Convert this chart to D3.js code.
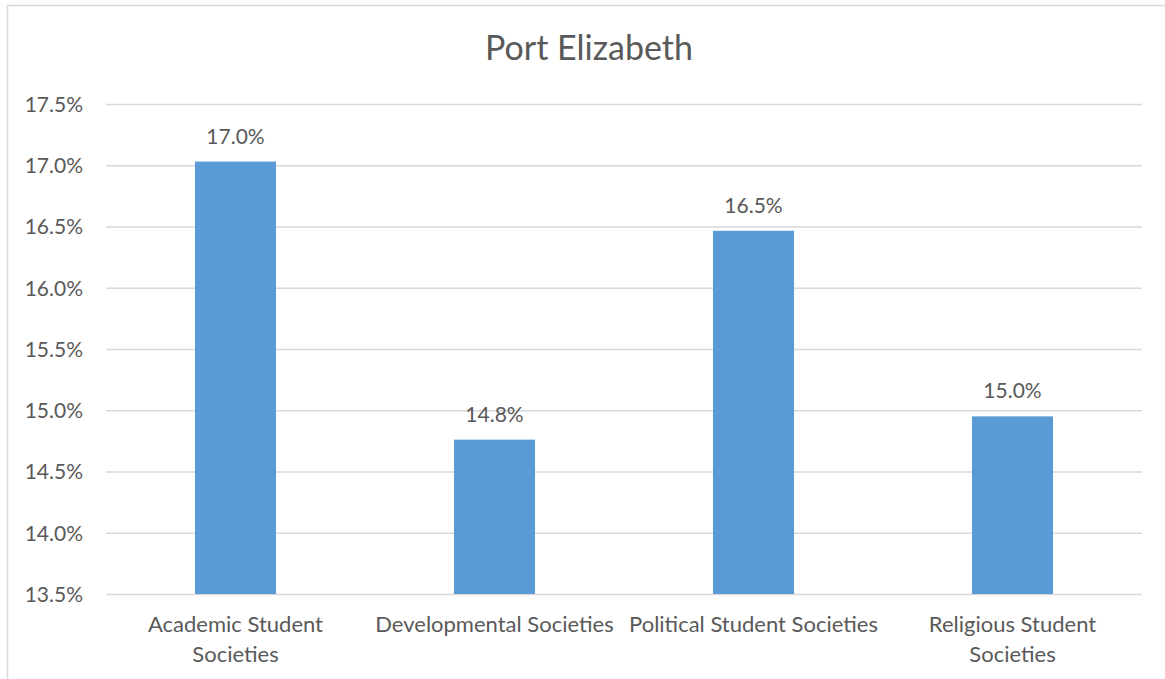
<!DOCTYPE html>
<html><head><meta charset="utf-8">
<script src="https://cdn.jsdelivr.net/npm/d3@7"></script>
<style>
html,body{margin:0;padding:0;background:#fff;}
svg text{font-family:Lato,"Open Sans",sans-serif;fill:#595959;}
</style></head>
<body><svg id="c" width="1165" height="679"></svg>
<script>
const title = "Port Elizabeth";
const categories = ["Academic Student Societies","Developmental Societies","Political Student Societies","Religious Student Societies"];
const categoryLines = [["Academic Student","Societies"],["Developmental Societies"],["Political Student Societies"],["Religious Student","Societies"]];
const values = [17.03, 14.76, 16.465, 14.95];
const valueLabels = ["17.0%","14.8%","16.5%","15.0%"];
const yTicks = [13.5,14.0,14.5,15.0,15.5,16.0,16.5,17.0,17.5];

(function(){
const svg = d3.select("#c");
svg.append("rect").attr("x",7.5).attr("y",5.5).attr("width",1170).attr("height",700)
  .attr("fill","#fff").attr("stroke","#d9d9d9").attr("stroke-width",1.5);

const pl=106, pr=1142, pt=104, pb=594;
const x = d3.scaleBand().domain(categories).range([pl,pr]).paddingInner(0.687).paddingOuter(0.3435);
const y = d3.scaleLinear().domain([13.5,17.5]).range([pb,pt]);

svg.append("text").attr("x",589).attr("y",60).attr("text-anchor","middle")
  .style("font-size","34px").text(title);

const yAxis = d3.axisLeft(y).tickValues(yTicks).tickFormat(d=>d.toFixed(1)+"%").tickSize(-(pr-pl)).tickPadding(23);
const ga = svg.append("g").attr("transform",`translate(${pl},0)`).call(yAxis);
ga.select(".domain").remove();
ga.selectAll(".tick line").attr("stroke","#d9d9d9").attr("stroke-width",1.5);
ga.selectAll(".tick text").style("font-size","21px").attr("fill","#595959").attr("dy","0.35em");

svg.selectAll("rect.bar").data(categories).enter().append("rect").attr("class","bar")
  .attr("x",d=>x(d)).attr("width",x.bandwidth())
  .attr("y",(d,i)=>y(values[i])).attr("height",(d,i)=>pb-y(values[i]))
  .attr("fill","#5b9bd5");

svg.selectAll("text.vl").data(categories).enter().append("text").attr("class","vl")
  .attr("x",d=>x(d)+x.bandwidth()/2).attr("y",(d,i)=>y(values[i])-18)
  .attr("text-anchor","middle").style("font-size","21px").text((d,i)=>valueLabels[i]);

const cl = svg.selectAll("text.cl").data(categories).enter().append("text").attr("class","cl")
  .attr("text-anchor","middle").style("font-size","22px");
cl.each(function(d,i){
  const t=d3.select(this);
  categoryLines[i].forEach((ln,j)=>{
    t.append("tspan").attr("x",x(d)+x.bandwidth()/2).attr("y",632+j*29.5).text(ln);
  });
});
})();
</script></body></html>
